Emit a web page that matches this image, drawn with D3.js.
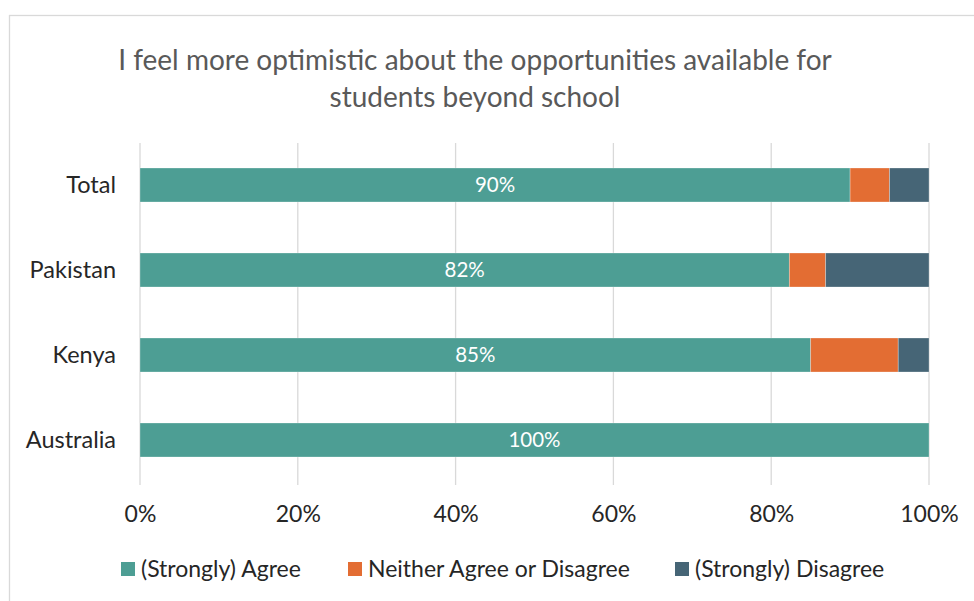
<!DOCTYPE html>
<html>
<head>
<meta charset="utf-8">
<script src="https://cdn.jsdelivr.net/npm/d3@7"></script>
<style>
  html, body { margin: 0; padding: 0; background: #fff; }
  svg { display: block; font-family: Lato, "Open Sans", sans-serif; }
</style>
</head>
<body>
<svg id="chart" width="974" height="601"></svg>
<script>
// Survey responses per country (share of respondents, %)
const categories = ["Total", "Pakistan", "Kenya", "Australia"];
const agree    = [90, 82.3, 85, 100];
const neither  = [5, 4.6, 11.1, 0];
const disagree = [5, 13.1, 3.9, 0];
const agreeLabels = ["90%", "82%", "85%", "100%"];
const seriesNames = ["(Strongly) Agree", "Neither Agree or Disagree", "(Strongly) Disagree"];
const tickValues = [0, 20, 40, 60, 80, 100];
const titleLines = ["I feel more optimistic about the opportunities available for", "students beyond school"];

const colors = ["#4d9e94", "#e36d33", "#466576"];
const textFont = "Lato, 'Open Sans', sans-serif";

const svg = d3.select("#chart");

// Chart frame
svg.append("rect")
  .attr("x", 9.5).attr("y", 15.5)
  .attr("width", 1000).attr("height", 1000)
  .attr("fill", "none").attr("stroke", "#d9d9d9").attr("stroke-width", 1.3);

// Title
svg.append("text")
  .attr("text-anchor", "middle")
  .attr("fill", "#595959")
  .attr("font-size", 28)
  .selectAll("tspan").data(titleLines).join("tspan")
  .attr("x", 475)
  .attr("y", (d, i) => 70 + i * 37)
  .text(d => d);

const x = d3.scaleLinear().domain([0, 100]).range([140, 929]);
const y = d3.scaleBand().domain(categories).range([142.5, 482.5]).paddingInner(0.6).paddingOuter(0.3);

// Vertical gridlines
svg.append("g")
  .selectAll("line").data(tickValues).join("line")
  .attr("x1", d => x(d)).attr("x2", d => x(d))
  .attr("y1", 143).attr("y2", 485)
  .attr("stroke", "#d9d9d9").attr("stroke-width", 1.3);

// Stacked data
const rows = categories.map((c, i) => ({ cat: c, a: agree[i], n: neither[i], d: disagree[i] }));
const stack = d3.stack().keys(["a", "n", "d"]);
const layers = stack(rows);

const bandH = y.bandwidth();
svg.append("g")
  .selectAll("g").data(layers).join("g")
  .attr("fill", (d, i) => colors[i])
  .selectAll("rect").data(d => d).join("rect")
  .attr("x", d => x(d[0]))
  .attr("y", d => y(d.data.cat))
  .attr("width", d => Math.max(0, x(d[1]) - x(d[0])))
  .attr("height", bandH)
  .attr("stroke", "#ffffff").attr("stroke-opacity", 0.35).attr("stroke-width", 0.8);

// Value labels on the agree segment
svg.append("g")
  .selectAll("text").data(rows).join("text")
  .attr("x", (d, i) => (x(0) + x(agree[i])) / 2)
  .attr("y", d => y(d.cat) + bandH / 2)
  .attr("dy", "0.36em")
  .attr("text-anchor", "middle")
  .attr("fill", "#ffffff")
  .attr("font-size", 20.5)
  .text((d, i) => agreeLabels[i]);

// Category axis labels
svg.append("g")
  .selectAll("text").data(categories).join("text")
  .attr("x", 116)
  .attr("y", d => y(d) + bandH / 2)
  .attr("dy", "0.36em")
  .attr("text-anchor", "end")
  .attr("fill", "#262626")
  .attr("font-size", 23.5)
  .text(d => d);

// Percent axis
const xAxis = d3.axisBottom(x).tickValues(tickValues).tickFormat(d => d + "%").tickSize(0);
const gx = svg.append("g").attr("transform", "translate(0,503)").call(xAxis);
gx.select(".domain").remove();
gx.selectAll("text")
  .attr("fill", "#262626")
  .attr("font-size", 23)
  .attr("font-family", textFont);

// Legend
const legendX = [121, 348, 675];
const lg = svg.append("g").selectAll("g").data(seriesNames).join("g")
  .attr("transform", (d, i) => `translate(${legendX[i]},569)`);
lg.append("rect")
  .attr("x", 0).attr("y", -7).attr("width", 14).attr("height", 14)
  .attr("fill", (d, i) => colors[i]);
lg.append("text")
  .attr("x", 20).attr("y", 0).attr("dy", "0.36em")
  .attr("fill", "#262626")
  .attr("font-size", 23)
  .text(d => d);
</script>
</body>
</html>
